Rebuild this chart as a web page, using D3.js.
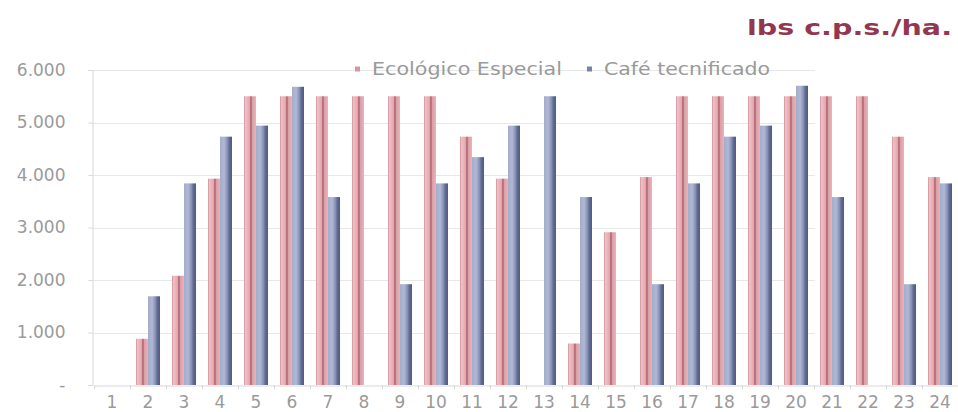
<!DOCTYPE html>
<html>
<head>
<meta charset="utf-8">
<script src="https://cdn.jsdelivr.net/npm/d3@7"></script>
<style>
  html, body { margin: 0; padding: 0; background: #fff; }
  svg { display: block; }
</style>
</head>
<body>
<svg id="chart" width="958" height="412"></svg>
<script>
// Rendimiento por finca (lbs c.p.s./ha.)
const categories = ["1","2","3","4","5","6","7","8","9","10","11","12",
                    "13","14","15","16","17","18","19","20","21","22","23","24"];
const seriesNames = ["Ecológico Especial", "Café tecnificado"];
const ecologico = [null, 880, 2080, 3930, 5500, 5500, 5500, 5500, 5500, 5500, 4730, 3930,
                   null, 790, 2910, 3960, 5500, 5500, 5500, 5500, 5500, 5500, 4730, 3960];
const tecnificado = [null, 1690, 3840, 4730, 4940, 5680, 3580, null, 1920, 3840, 4340, 4940,
                     5500, 3580, null, 1920, 3840, 4730, 4940, 5700, 3580, null, 1920, 3840];
const yTicks = [0, 1000, 2000, 3000, 4000, 5000, 6000];
const unitTitle = "lbs c.p.s./ha.";

const svg = d3.select("#chart");
const font = "'DejaVu Sans', sans-serif";
const textGrey = "#9a9a9a";

const x = d3.scaleBand().domain(categories).range([94, 958])
  .paddingInner(1 / 3).paddingOuter(1 / 6);
const xs = d3.scaleBand().domain(seriesNames).range([0, x.bandwidth()]);
const y = d3.scaleLinear().domain([0, 6000]).range([385, 70]);

// bar shading
const defs = svg.append("defs");
const pinkGrad = defs.append("linearGradient").attr("id", "gPink");
[[0, "#cf8d97"], [0.12, "#efbfc4"], [0.45, "#e6a9b0"], [0.58, "#a95d69"],
 [0.7, "#dc9fa7"], [1, "#e9b3b9"]]
  .forEach(([o, c]) => pinkGrad.append("stop").attr("offset", o).attr("stop-color", c));
const blueGrad = defs.append("linearGradient").attr("id", "gBlue");
[[0, "#a3acca"], [0.35, "#b0b8d4"], [0.6, "#8893b7"], [0.8, "#5d6990"], [1, "#4d597f"]]
  .forEach(([o, c]) => blueGrad.append("stop").attr("offset", o).attr("stop-color", c));
const fills = { "Ecológico Especial": "url(#gPink)", "Café tecnificado": "url(#gBlue)" };
const swatch = { "Ecológico Especial": "#d7959e", "Café tecnificado": "#7883a6" };

// gridlines
svg.append("g").selectAll("line").data(yTicks.slice(1)).join("line")
  .attr("x1", 92).attr("x2", 815)
  .attr("y1", d => Math.round(y(d)) + 0.5).attr("y2", d => Math.round(y(d)) + 0.5)
  .attr("stroke", "#e8e8e8").attr("stroke-width", 1);

// y axis
const fmt = d => d === 0 ? "-" : d3.format(",")(d).replace(/,/g, ".");
const yAxis = svg.append("g").attr("transform", "translate(92.5,0)")
  .call(d3.axisLeft(y).tickValues(yTicks).tickFormat(fmt).tickSize(4).tickPadding(23));
yAxis.select(".domain").attr("stroke", "#d8d8d8");
yAxis.selectAll(".tick line").attr("stroke", "#d8d8d8");
yAxis.selectAll("text").attr("fill", textGrey).style("font-family", font).style("font-size", "17px");

// x axis
const xAxis = svg.append("g").attr("transform", "translate(0,385.5)")
  .call(d3.axisBottom(x).tickSize(0).tickPadding(10).tickSizeOuter(0));
xAxis.select(".domain").attr("stroke", "#d8d8d8");
xAxis.selectAll("text").attr("fill", textGrey).style("font-family", font).style("font-size", "17px");
svg.append("g").selectAll("line").data(categories).join("line")
  .attr("x1", d => Math.round(x(d) - x.step() * x.paddingInner() / 2) + 0.5)
  .attr("x2", d => Math.round(x(d) - x.step() * x.paddingInner() / 2) + 0.5)
  .attr("y1", 385).attr("y2", 389).attr("stroke", "#d8d8d8");

// bars
const rows = categories.map((c, i) => ({ c, vals: [
  { s: seriesNames[0], v: ecologico[i] },
  { s: seriesNames[1], v: tecnificado[i] }
]}));
svg.append("g").selectAll("g").data(rows).join("g")
  .attr("transform", d => `translate(${x(d.c)},0)`)
  .selectAll("rect").data(d => d.vals.filter(e => e.v != null)).join("rect")
  .attr("x", d => xs(d.s)).attr("width", xs.bandwidth())
  .attr("y", d => y(d.v)).attr("height", d => y(0) - y(d.v))
  .attr("fill", d => fills[d.s]);

// legend
const legend = svg.append("g").attr("transform", "translate(0,69)");
const legendItems = [{ s: seriesNames[0], x: 355, w: 190 }, { s: seriesNames[1], x: 587, w: 166 }];
legendItems.forEach(it => {
  legend.append("rect").attr("x", it.x).attr("y", -2.5).attr("width", 5).attr("height", 5)
    .attr("fill", swatch[it.s]);
  legend.append("text").attr("x", it.x + 17).attr("y", 0).attr("dy", "0.35em")
    .attr("textLength", it.w).attr("lengthAdjust", "spacingAndGlyphs")
    .attr("fill", textGrey).style("font-family", font).style("font-size", "17px")
    .text(it.s);
});

// unit title
svg.append("text").attr("x", 747).attr("y", 35)
  .attr("textLength", 205).attr("lengthAdjust", "spacingAndGlyphs")
  .attr("fill", "#93364f").style("font-family", font).style("font-weight", "bold")
  .style("font-size", "22px").text(unitTitle);
</script>
</body>
</html>
